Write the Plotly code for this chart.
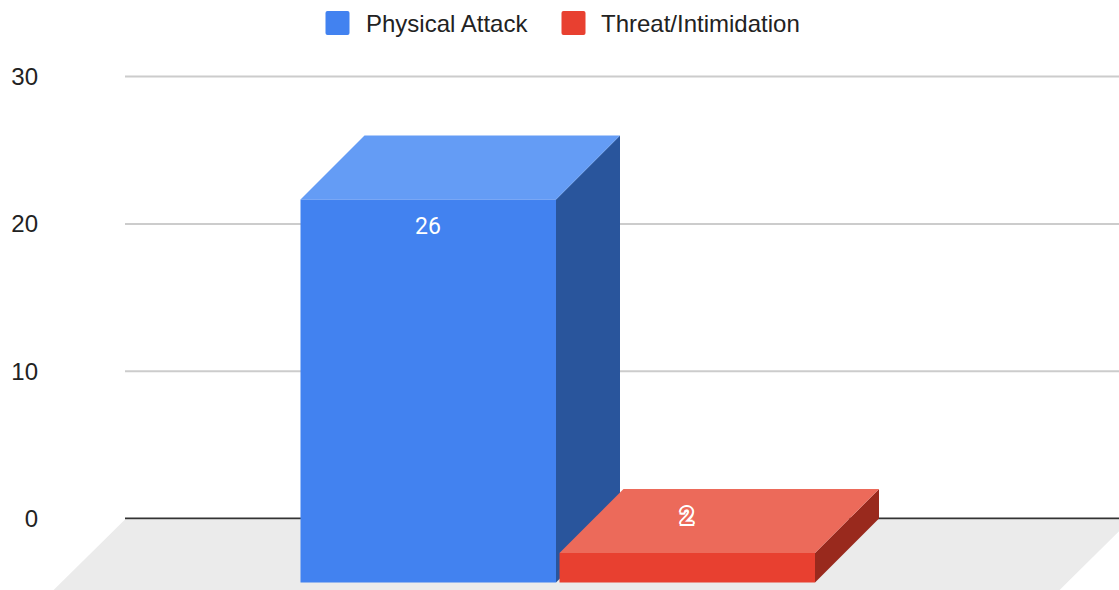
import plotly.graph_objects as go

# Series drawn as 3D-style columns
series_names = ["Physical Attack", "Threat/Intimidation"]
series_values = [26, 2]
value_ticks = [0, 10, 20, 30]

# Colours per series: front, top and side faces
front_colors = ["#4282f0", "#e84030"]
top_colors = ["#649cf5", "#ec6a5a"]
side_colors = ["#29559c", "#99291d"]

WIDTH, HEIGHT = 1119, 590
PX_PER_UNIT = 14.73
ZERO_PX = 518.5
DEPTH_PX = 64
DEPTH = DEPTH_PX / PX_PER_UNIT
COLUMN_LEFT = [300.5, 559.5]
COLUMN_WIDTH = 255.5
WALL_LEFT = 125


def unit(py):
    """Value-axis coordinate of a vertical pixel position."""
    return (ZERO_PX - py) / PX_PER_UNIT


def polygon(xs, ys, color, name=None):
    return go.Scatter(
        x=xs + xs[:1], y=ys + ys[:1], mode="lines", fill="toself", name=name,
        fillcolor=color, line=dict(width=0), hoverinfo="skip", showlegend=False,
    )


def swatch_path(x0, y0, size, r=2):
    px = lambda v: v / WIDTH
    py = lambda v: 1 - v / HEIGHT
    x1, y1 = x0 + size, y0 + size
    return (
        f"M {px(x0 + r)} {py(y0)} L {px(x1 - r)} {py(y0)} Q {px(x1)} {py(y0)} {px(x1)} {py(y0 + r)} "
        f"L {px(x1)} {py(y1 - r)} Q {px(x1)} {py(y1)} {px(x1 - r)} {py(y1)} "
        f"L {px(x0 + r)} {py(y1)} Q {px(x0)} {py(y1)} {px(x0)} {py(y1 - r)} "
        f"L {px(x0)} {py(y0 + r)} Q {px(x0)} {py(y0)} {px(x0 + r)} {py(y0)} Z"
    )


fig = go.Figure()

# Back-wall gridlines and the zero baseline
for tick in value_ticks:
    fig.add_trace(go.Scatter(
        x=[WALL_LEFT, WIDTH], y=[tick, tick], mode="lines",
        line=dict(color="#333333" if tick == 0 else "#cccccc", width=2),
        hoverinfo="skip", showlegend=False,
    ))

# Floor receding from the back wall
floor_drop = 80
fig.add_trace(polygon(
    [WALL_LEFT, 1131, 1131 - floor_drop, WALL_LEFT - floor_drop],
    [-0.06, -0.06, -floor_drop / PX_PER_UNIT, -floor_drop / PX_PER_UNIT],
    "#ebebeb",
))

# Columns: front face on the value scale, top and side faces offset by the depth
for i, (name, value) in enumerate(zip(series_names, series_values)):
    left = COLUMN_LEFT[i]
    right = left + COLUMN_WIDTH
    front_top = value - DEPTH
    fig.add_trace(polygon(
        [right, right + DEPTH_PX, right + DEPTH_PX, right],
        [front_top, value, 0, -DEPTH],
        side_colors[i],
    ))
    fig.add_trace(polygon(
        [left, left + DEPTH_PX, right + DEPTH_PX, right],
        [front_top, value, value, front_top],
        top_colors[i],
    ))
    fig.add_trace(polygon(
        [left, right, right, left],
        [-DEPTH, -DEPTH, front_top, front_top],
        front_colors[i], name=name,
    ))

# Value labels
annotations = [
    dict(
        x=COLUMN_LEFT[0] + COLUMN_WIDTH / 2, y=series_values[0] - DEPTH, yanchor="top", yshift=-11,
        text=str(series_values[0]), showarrow=False,
        font=dict(family="Roboto, Arial, sans-serif", size=23, color="#ffffff"),
    ),
    dict(
        x=COLUMN_LEFT[1] + COLUMN_WIDTH / 2, y=series_values[1] - DEPTH / 2, yanchor="middle", yshift=5,
        text=str(series_values[1]), showarrow=False,
        font=dict(
            family="Roboto, Arial, sans-serif", size=24, weight=500, color="#ec6a5a",
            shadow="2px 0 0 #fff, -2px 0 0 #fff, 0 2px 0 #fff, 0 -2px 0 #fff, "
                   "1.5px 1.5px 0 #fff, -1.5px -1.5px 0 #fff, 1.5px -1.5px 0 #fff, -1.5px 1.5px 0 #fff",
        ),
    ),
]

# Legend row along the top edge
shapes = []
for i, (name, swatch_x, text_x) in enumerate(zip(series_names, [325.5, 561.5], [366, 601])):
    shapes.append(dict(
        type="path", xref="paper", yref="paper", path=swatch_path(swatch_x, 11, 24),
        fillcolor=front_colors[i], line=dict(width=0),
    ))
    annotations.append(dict(
        xref="paper", yref="paper", x=text_x / WIDTH, y=1 - 23.5 / HEIGHT,
        xanchor="left", yanchor="middle", text=name, showarrow=False, xshift=-2,
        font=dict(family="Liberation Sans, Arial, sans-serif", size=24, color="#222222"),
    ))

fig.update_layout(
    width=WIDTH, height=HEIGHT, margin=dict(l=0, r=0, t=0, b=0),
    paper_bgcolor="white", plot_bgcolor="white",
    showlegend=False,
    shapes=shapes, annotations=annotations,
    xaxis=dict(range=[0, WIDTH], visible=False, fixedrange=True),
    yaxis=dict(
        range=[unit(HEIGHT), unit(0)], anchor="free", position=38 / WIDTH,
        tickmode="array", tickvals=value_ticks, ticktext=[str(t) for t in value_ticks],
        showgrid=False, zeroline=False, showline=False, ticks="", fixedrange=True,
        tickfont=dict(family="Liberation Sans, Arial, sans-serif", size=24, color="#222222"),
    ),
)

fig.write_html("out.html", config={"displayModeBar": False})
